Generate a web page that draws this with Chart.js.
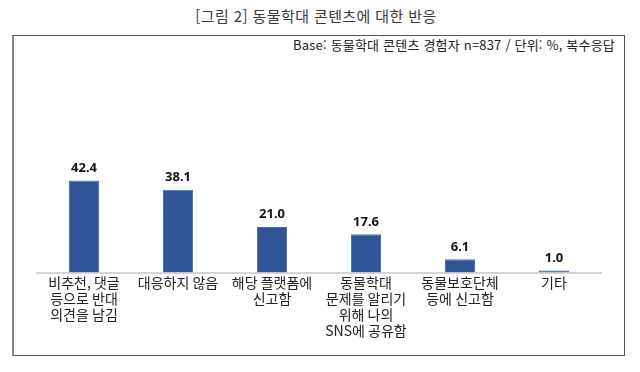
<!DOCTYPE html>
<html lang="ko">
<head>
<meta charset="utf-8">
<script src="https://cdn.jsdelivr.net/npm/chart.js@4"></script>
<style>
  html, body { margin: 0; padding: 0; background: #fff; }
  #wrap { position: relative; width: 640px; height: 372px; font-family: "Noto Sans CJK KR", "Noto Sans", sans-serif; }
  #title { position: absolute; left: 0; top: 5px; width: 632px; text-align: center; font-size: 15px; letter-spacing: 0.4px; color: #3a3a3a; }
  #frame { position: absolute; left: 12px; top: 35px; width: 610px; height: 319px; border: 1px solid #555; border-left: 2px solid #888; }
  #base { position: absolute; right: 25px; top: 35px; font-size: 13px; letter-spacing: 0.2px; color: #222; }
  #chart { position: absolute; left: 0; top: 0; }
</style>
</head>
<body>
<div id="wrap">
  <div id="title">[그림 2] 동물학대 콘텐츠에 대한 반응</div>
  <div id="frame"></div>
  <div id="base">Base: 동물학대 콘텐츠 경험자 n=837 / 단위: %, 복수응답</div>
  <canvas id="chart" width="640" height="372"></canvas>
</div>
<script>
"use strict";

// categories (wrapped the way the source shows them)
const categories = [
  ["비추천, 댓글", "등으로 반대", "의견을 남김"],
  ["대응하지 않음"],
  ["해당 플랫폼에", "신고함"],
  ["동물학대", "문제를 알리기", "위해 나의", "SNS에 공유함"],
  ["동물보호단체", "등에 신고함"],
  ["기타"],
];
const responseRates = [42.4, 38.1, 21.0, 17.6, 6.1, 1.0];

const barColor = "#2F5597";

/**
 * Writes the value above every bar, using the bar positions from the scale
 */
const valueLabels = {
  id: "valueLabels",
  afterDatasetsDraw(chart) {
    const ctx = chart.ctx;
    const meta = chart.getDatasetMeta(0);
    ctx.save();
    ctx.font = "bold 13px 'Noto Sans', 'Noto Sans CJK KR', sans-serif";
    ctx.fillStyle = "#111";
    ctx.textAlign = "center";
    ctx.textBaseline = "bottom";
    meta.data.forEach((bar, i) => {
      ctx.fillText(responseRates[i].toFixed(1), bar.x, bar.y - 6);
    });
    ctx.restore();
  },
};

new Chart(document.getElementById("chart"), {
  type: "bar",
  data: {
    labels: categories,
    datasets: [
      {
        data: responseRates,
        backgroundColor: barColor,
        borderColor: "#4A6FB0",
        borderWidth: 1,
        barPercentage: 0.32,
        categoryPercentage: 1,
      },
    ],
  },
  options: {
    responsive: false,
    animation: false,
    events: [],
    layout: { padding: { top: 164, left: 37, right: 39, bottom: 31 } },
    plugins: { legend: { display: false }, tooltip: { enabled: false } },
    scales: {
      x: {
        grid: { display: false, drawTicks: false },
        border: { display: true, color: "#d4d4d4", width: 2 },
        ticks: {
          padding: 2,
          autoSkip: false,
          maxRotation: 0,
          minRotation: 0,
          color: "#222",
          font: { family: "'Noto Sans CJK KR', sans-serif", size: 14, lineHeight: 1.15 },
        },
      },
      y: { display: false, min: 0, max: 50 },
    },
  },
  plugins: [valueLabels],
});
</script>
</body>
</html>
